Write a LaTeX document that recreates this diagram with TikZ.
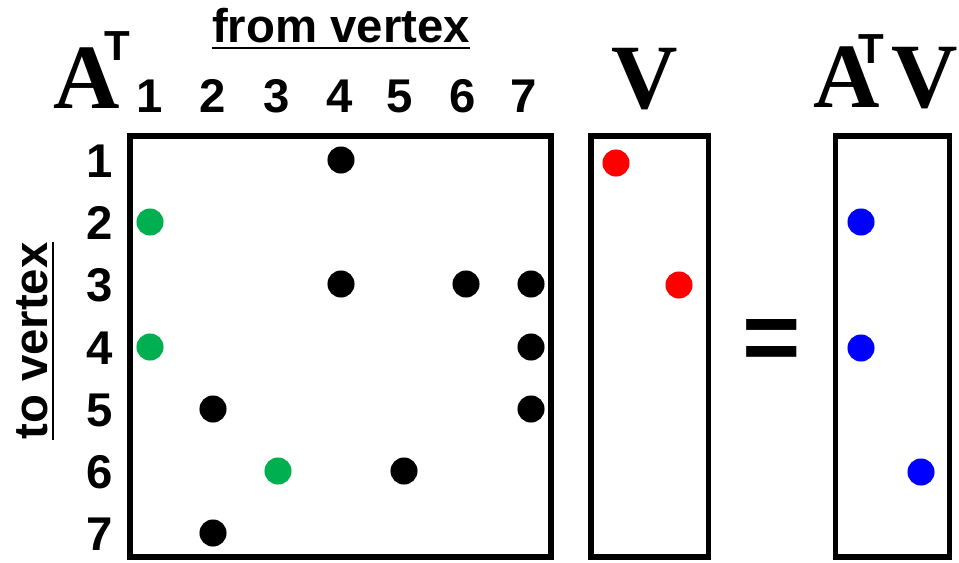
\documentclass[tikz,border=0pt]{standalone}
\usepackage{fontspec}
\newfontfamily\lsans{Liberation Sans}
\newfontfamily\lserif{Liberation Serif}
\definecolor{dgreen}{RGB}{0,176,80}
\begin{document}
\begin{tikzpicture}[x=0.75pt,y=-0.75pt,
  box/.style={draw=black,line width=4.1pt},
  dot/.style={circle,fill=#1,inner sep=0pt,minimum size=20.3pt},
  num/.style={font=\lsans\bfseries\fontsize{35.5}{40}\selectfont,inner sep=0pt,anchor=base},
  lbl/.style={font=\lsans\bfseries\fontsize{35.5}{40}\selectfont,inner sep=0pt,anchor=base},
  big/.style={font=\lserif\bfseries\fontsize{69}{72}\selectfont,inner sep=0pt,anchor=base},
  sup/.style={font=\lsans\bfseries\fontsize{31.5}{34}\selectfont,inner sep=0pt,anchor=base},
  ul/.style={line width=2.2pt}]
\useasboundingbox (0,0) rectangle (959,562);
% boxes
\draw[box] (130,136) rectangle (551,557);
\draw[box] (591,136) rectangle (708.5,557);
\draw[box] (835.5,136) rectangle (949.5,557);
% titles
\node[big] (A1) at (87,108) {A};
\node[sup] (T1) at (117,60) {T};
\node[big] (V1) at (645,108) {V};
\node[big] (A2) at (847,107) {A};
\node[sup] (T2) at (871,63) {T};
\node[big] (V2) at (925,107) {V};
\node[lbl] (fv) at (341,42) {from vertex};
\draw[ul] ([yshift=-4.5pt]fv.base west) -- ([yshift=-4.5pt]fv.base east);
\node[lbl,rotate=90] (tv) at (47,341) {to vertex};
\draw[ul] ([xshift=4.5pt]tv.base west) -- ([xshift=4.5pt]tv.base east);
\node[font=\lsans\bfseries\fontsize{75}{80}\selectfont,inner sep=0pt] (eq) at (772,345) {=};
% column numbers
\foreach \i/\x in {1/150,2/213,3/277,4/340,5/400,6/463,7/524}
  \node[num] (c\i) at (\x,112) {\i};
% row numbers
\foreach \i/\y in {1/160,2/222,3/284,4/347,5/409,6/471,7/533}
  \node[num] (r\i) at (100,\y+17.5) {\i};
% matrix entries
\node[dot=black] (m14) at (341,160) {};
\node[dot=dgreen] (m21) at (150,222) {};
\node[dot=black] (m34) at (341,284) {};
\node[dot=black] (m36) at (466,284) {};
\node[dot=black] (m37) at (531,284) {};
\node[dot=dgreen] (m41) at (150,347) {};
\node[dot=black] (m47) at (531,347) {};
\node[dot=black] (m52) at (213,409) {};
\node[dot=black] (m57) at (531,409) {};
\node[dot=dgreen] (m63) at (278,471) {};
\node[dot=black] (m65) at (404,471) {};
\node[dot=black] (m72) at (213,533) {};
% V entries
\node[dot=red] (v1) at (616,163) {};
\node[dot=red] (v3) at (679,285) {};
% result entries
\node[dot=blue] (w2) at (861,222) {};
\node[dot=blue] (w4) at (861,348) {};
\node[dot=blue] (w6) at (921,472) {};
\end{tikzpicture}
\end{document}
